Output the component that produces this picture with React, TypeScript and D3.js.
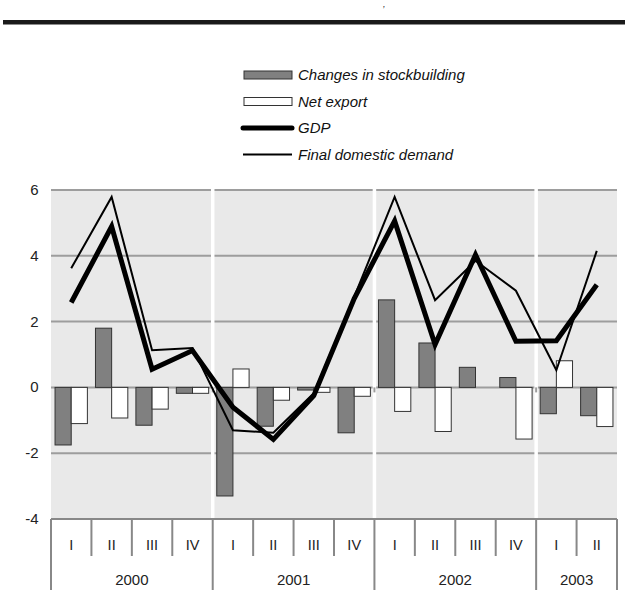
import React from "react";
import * as d3 from "d3";

const quarters = ["I", "II", "III", "IV", "I", "II", "III", "IV", "I", "II", "III", "IV", "I", "II"];
const years = ["2000", "2001", "2002", "2003"];
const yearCounts = [4, 4, 4, 2];
const stockbuilding = [-1.75, 1.8, -1.15, -0.18, -3.3, -1.18, -0.08, -1.38, 2.66, 1.35, 0.61, 0.3, -0.8, -0.86];
const netExport = [-1.1, -0.93, -0.66, -0.18, 0.56, -0.39, -0.15, -0.27, -0.73, -1.34, 0, -1.57, 0.81, -1.19];
const gdp = [2.58, 4.89, 0.55, 1.12, -0.6, -1.58, -0.25, 2.7, 5.06, 1.3, 4.03, 1.4, 1.42, 3.12];
const finalDemand = [3.62, 5.79, 1.13, 1.2, -1.3, -1.38, -0.18, 2.75, 5.79, 2.65, 3.85, 2.94, 0.52, 4.15];
const yTicks = [-4, -2, 0, 2, 4, 6];
const legendItems = ["Changes in stockbuilding", "Net export", "GDP", "Final domestic demand"];

const W = 625;
const H = 599;
const left = 51;
const right = 617;
const top = 190;
const bottom = 519;
const FONT = "'Liberation Sans', Arial, sans-serif";

export default function App() {
  const idx = quarters.map((_, i) => String(i));
  const x = d3.scaleBand<string>().domain(idx).range([left, right]).padding(0);
  const inner = d3
    .scaleBand<string>()
    .domain(["stock", "net"])
    .range([0, x.bandwidth()])
    .paddingInner(0)
    .paddingOuter(0.25);
  const y = d3.scaleLinear().domain([-4, 6]).range([bottom, top]);
  const cx = (i: number) => (x(String(i)) as number) + x.bandwidth() / 2;

  const line = d3
    .line<number>()
    .x((_, i) => cx(i))
    .y((d) => y(d));

  const yearStarts: number[] = [];
  let acc = 0;
  yearCounts.forEach((c) => {
    yearStarts.push(acc);
    acc += c;
  });
  const boundaryX = (k: number) => (k >= quarters.length ? right : (x(String(k)) as number));

  const y0 = y(0);

  return (
    <svg
      width={W}
      height={H}
      style={{ position: "absolute", left: 0, top: 0, background: "#fff" }}
      fontFamily={FONT}
    >
      {/* header rule and title fragment */}
      <rect x={3} y={20} width={622} height={4.5} fill="#1a1a1a" />
      <text x={383} y={7} fontSize={9} fontStyle="italic" fill="#222">
        ,
      </text>

      {/* legend */}
      {legendItems.map((name, i) => {
        const cy = 75 + i * 26.5;
        return (
          <g key={name}>
            {i === 0 && <rect x={244} y={cy - 4} width={48} height={8} fill="#808080" stroke="#333" strokeWidth={1} />}
            {i === 1 && <rect x={244} y={cy - 4} width={48} height={8} fill="#fff" stroke="#333" strokeWidth={1} />}
            {i === 2 && <line x1={243} x2={292} y1={cy} y2={cy} stroke="#000" strokeWidth={5} strokeLinecap="round" />}
            {i === 3 && <line x1={243} x2={292} y1={cy} y2={cy} stroke="#000" strokeWidth={2} />}
            <text x={298} y={cy + 5} fontSize={15} fontStyle="italic" fill="#111">
              {name}
            </text>
          </g>
        );
      })}

      {/* plot background */}
      <rect x={left} y={top} width={right - left} height={bottom - top} fill="#e9e9e9" />

      {/* gridlines */}
      {yTicks.map((t) => (
        <line key={t} x1={left} x2={right} y1={y(t)} y2={y(t)} stroke="#9d9d9d" strokeWidth={2} />
      ))}

      {/* year separators in plot */}
      {yearStarts.slice(1).map((s) => (
        <rect key={s} x={boundaryX(s) - 1.75} y={top - 1} width={3.5} height={bottom - top} fill="#fff" />
      ))}
      {yearStarts.slice(1).map((s) => (
        <line key={"t" + s} x1={boundaryX(s)} x2={boundaryX(s)} y1={y0} y2={y0 + 5} stroke="#9d9d9d" strokeWidth={2} />
      ))}

      {/* y tick labels */}
      {yTicks.map((t) => (
        <text key={t} x={38.5} y={y(t) + 5} fontSize={15} textAnchor="end" fill="#222">
          {t}
        </text>
      ))}

      {/* bars */}
      {stockbuilding.map((v, i) => (
        <rect
          key={"s" + i}
          x={(x(String(i)) as number) + (inner("stock") as number)}
          y={Math.min(y(v), y0)}
          width={inner.bandwidth()}
          height={Math.abs(y(v) - y0)}
          fill="#808080"
          stroke="#333"
          strokeWidth={1}
        />
      ))}
      {netExport.map((v, i) =>
        v === 0 ? null : (
          <rect
            key={"n" + i}
            x={(x(String(i)) as number) + (inner("net") as number)}
            y={Math.min(y(v), y0)}
            width={inner.bandwidth()}
            height={Math.abs(y(v) - y0)}
            fill="#fff"
            stroke="#333"
            strokeWidth={1}
          />
        )
      )}

      {/* lines */}
      <path d={line(finalDemand) || ""} fill="none" stroke="#000" strokeWidth={2} />
      <path d={line(gdp) || ""} fill="none" stroke="#000" strokeWidth={5} />

      {/* category axis */}
      <line x1={left} x2={right} y1={bottom} y2={bottom} stroke="#888" strokeWidth={2} />
      {quarters.map((_, i) =>
        i === 0 ? null : (
          <line
            key={"q" + i}
            x1={boundaryX(i)}
            x2={boundaryX(i)}
            y1={bottom}
            y2={yearStarts.includes(i) ? 590 : 556}
            stroke="#888"
            strokeWidth={2}
          />
        )
      )}
      <line x1={left} x2={left} y1={bottom} y2={590} stroke="#888" strokeWidth={2} />
      <line x1={right} x2={right} y1={bottom} y2={590} stroke="#888" strokeWidth={2} />
      {quarters.map((q, i) => (
        <text key={"ql" + i} x={cx(i)} y={550} fontSize={14.5} textAnchor="middle" fill="#222">
          {q}
        </text>
      ))}
      {years.map((yr, k) => {
        const a = boundaryX(yearStarts[k]);
        const b = boundaryX(yearStarts[k] + yearCounts[k]);
        return (
          <text key={yr} x={(a + b) / 2} y={584.5} fontSize={15} textAnchor="middle" fill="#222">
            {yr}
          </text>
        );
      })}
    </svg>
  );
}
